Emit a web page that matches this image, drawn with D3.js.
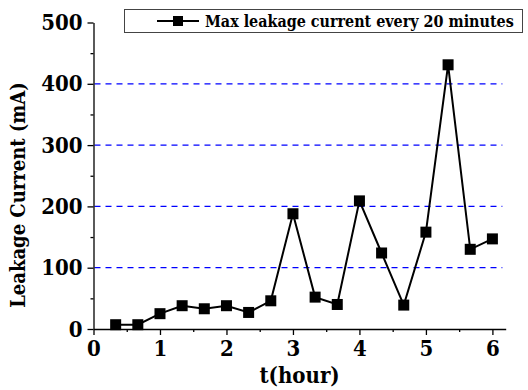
<!DOCTYPE html>
<html>
<head>
<meta charset="utf-8">
<script src="https://cdn.jsdelivr.net/npm/d3@7"></script>
<style>
  body { margin: 0; background: #fff; }
  svg text { font-family: 'DejaVu Serif Condensed', 'DejaVu Serif', serif; font-stretch: condensed; font-weight: bold; fill: #000; }
</style>
</head>
<body>
<svg id="chart" width="528" height="390"></svg>
<script>
// readings every 20 minutes
const hours = [1/3, 2/3, 1, 4/3, 5/3, 2, 7/3, 8/3, 3, 10/3, 11/3, 4, 13/3, 14/3, 5, 16/3, 17/3, 6];
const leakage = [7, 7, 25, 38, 33, 38, 27, 46, 188, 52, 40, 209, 124, 39, 158, 431, 130, 147];
const xTicks = [0, 1, 2, 3, 4, 5, 6];
const yTicks = [0, 100, 200, 300, 400, 500];
const gridValues = [100, 200, 300, 400];
const legendLabel = 'Max leakage current every 20 minutes';

const svg = d3.select('#chart');

const x = d3.scaleLinear().domain([0, 6.2]).range([93.5, 505.7]);
const y = d3.scaleLinear().domain([0, 500]).range([329, 22.5]);

// dashed grid
svg.append('g')
  .selectAll('line')
  .data(gridValues)
  .join('line')
  .attr('x1', x(0) + 1)
  .attr('x2', x(6.15))
  .attr('y1', d => y(d))
  .attr('y2', d => y(d))
  .attr('stroke', '#0000ff')
  .attr('stroke-width', 1.3)
  .attr('stroke-dasharray', '6,5');

// minor ticks
svg.append('g')
  .attr('transform', 'translate(0,' + y(0) + ')')
  .call(d3.axisBottom(x).tickValues(d3.range(0.5, 6.2, 1)).tickSize(3).tickFormat(''))
  .call(g => g.select('.domain').remove());
svg.append('g')
  .attr('transform', 'translate(' + x(0) + ',0)')
  .call(d3.axisLeft(y).tickValues(d3.range(50, 500, 100)).tickSize(3).tickFormat(''))
  .call(g => g.select('.domain').remove());

// x axis
const xAxis = svg.append('g')
  .attr('transform', 'translate(0,' + y(0) + ')')
  .call(d3.axisBottom(x).tickValues(xTicks).tickFormat(d3.format('d')).tickSize(6).tickSizeOuter(0).tickPadding(5));
xAxis.selectAll('text').attr('font-size', 22);

// y axis
const yAxis = svg.append('g')
  .attr('transform', 'translate(' + x(0) + ',0)')
  .call(d3.axisLeft(y).tickValues(yTicks).tickFormat(d3.format('d')).tickSize(6).tickSizeOuter(0).tickPadding(5));
yAxis.selectAll('text').attr('font-size', 22);

svg.selectAll('.domain, .tick line').attr('stroke', '#000').attr('stroke-width', 1.3);
svg.selectAll('g').attr('font-family', null);

// series
svg.append('path')
  .datum(hours.map((h, i) => [h, leakage[i]]))
  .attr('fill', 'none')
  .attr('stroke', '#000')
  .attr('stroke-width', 2)
  .attr('d', d3.line().x(d => x(d[0])).y(d => y(d[1])));

svg.append('g')
  .selectAll('rect')
  .data(hours.map((h, i) => [h, leakage[i]]))
  .join('rect')
  .attr('x', d => x(d[0]) - 5.5)
  .attr('y', d => y(d[1]) - 5.5)
  .attr('width', 11)
  .attr('height', 11)
  .attr('fill', '#000');

// axis titles
svg.append('text')
  .attr('x', (x(0) + x(6.2)) / 2)
  .attr('y', 383)
  .attr('text-anchor', 'middle')
  .attr('font-size', 22)
  .text('t(hour)');

svg.append('text')
  .attr('transform', 'translate(25,195) rotate(-90)')
  .attr('text-anchor', 'middle')
  .attr('font-size', 20)
  .text('Leakage Current (mA)');

// legend
const legend = svg.append('g');
legend.append('rect')
  .attr('x', 124.5)
  .attr('y', 9.5)
  .attr('width', 398)
  .attr('height', 23)
  .attr('fill', '#fff')
  .attr('stroke', '#444')
  .attr('stroke-width', 1);
legend.append('line')
  .attr('x1', 157).attr('x2', 199)
  .attr('y1', 21).attr('y2', 21)
  .attr('stroke', '#000')
  .attr('stroke-width', 2);
legend.append('rect')
  .attr('x', 173).attr('y', 16)
  .attr('width', 10).attr('height', 10)
  .attr('fill', '#000');
const legendText = legend.append('text')
  .attr('x', 205)
  .attr('y', 27)
  .attr('font-size', 17)
  .text(legendLabel);
// shrink the font so the label fits the box
const natural = legendText.node().getComputedTextLength();
if (natural > 309) legendText.attr('font-size', 17 * 309 / natural);
</script>
</body>
</html>
